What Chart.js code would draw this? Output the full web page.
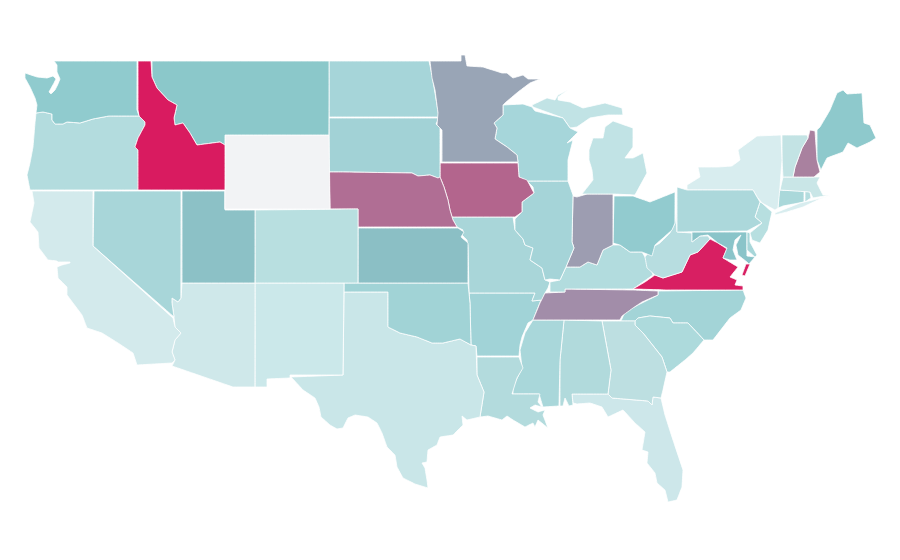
<!DOCTYPE html>
<html>
<head>
<meta charset="utf-8">
<title>US states</title>
<script src="https://cdn.jsdelivr.net/npm/chart.js@4"></script>
<style>
  html, body { margin: 0; background: #fff; }
  canvas { display: block; }
</style>
</head>
<body>
<canvas id="mapChart" width="900" height="560"></canvas>
<script>
// state outlines, in map units (x, y)
const washington = [[54,61],[137,61],[137,110],[139,116],[109,116],[93,119],[80,123],[67,122],[63,124],[55,124],[52,120],[52,114],[43,112],[36,113],[37,105],[35,98],[30,87],[25,78],[25,73],[37,77],[47,78],[53,76],[56,79],[54,83],[49,92],[51,94],[55,90],[58,84],[60,79],[57,72],[57,65]];
const idaho = [[138,61],[151,61],[152,77],[157,88],[168,100],[177,105],[174,118],[175,125],[183,123],[190,133],[197,145],[220,142],[225,145],[225,190],[138,190],[138,150],[135,147],[138,138],[145,125],[145,122],[139,116],[138,110]];
const montana = [[152,61],[329,61],[329,135],[225,135],[225,145],[220,142],[197,145],[190,133],[183,123],[175,125],[174,118],[177,105],[168,100],[157,88],[152,77]];
const wyoming = [[225,135],[329,135],[330,209],[225,209]];
const oregon = [[36,113],[43,112],[52,114],[52,120],[55,124],[63,124],[67,122],[80,123],[93,119],[109,116],[139,116],[145,122],[145,125],[138,138],[135,147],[138,150],[138,190],[30,190],[27,175],[30,163],[33,147],[35,123]];
const california = [[32,191],[93,191],[93,246],[173,318],[175,327],[181,333],[175,340],[172,352],[175,360],[172,363],[137,365],[133,353],[118,343],[102,333],[87,328],[82,315],[67,295],[67,287],[58,278],[57,267],[62,265],[70,263],[70,262],[58,262],[57,261],[48,260],[39,248],[38,232],[30,222],[34,203]];
const nevada = [[94,191],[181,191],[181,298],[178,302],[172,298],[172,303],[174,317],[93,246]];
const utah = [[182,191],[225,191],[225,210],[255,210],[255,283],[182,283]];
const arizona = [[182,283],[255,283],[255,387],[233,387],[172,366],[175,360],[172,352],[175,340],[181,333],[175,327],[174,317],[172,303],[172,298],[178,302],[181,298]];
const colorado = [[255,210],[358,209],[358,283],[255,283]];
const nebraska = [[329,172],[343,172],[412,173],[418,176],[430,175],[438,178],[440,177],[444,187],[448,200],[450,210],[453,220],[457,227],[358,227],[358,209],[330,209]];
const kansas = [[358,228],[458,228],[464,232],[461,237],[468,243],[468,283],[358,283]];
const newMexico = [[255,283],[344,283],[343,375],[290,375],[290,378],[267,379],[267,387],[255,387]];
const oklahoma = [[344,283],[468,283],[470,303],[471,345],[460,339],[443,343],[432,343],[417,337],[400,333],[388,327],[388,292],[344,292]];
const texas = [[344,292],[388,292],[388,327],[400,333],[417,337],[432,343],[443,343],[460,339],[471,345],[476,346],[477,375],[484,392],[480,417],[467,420],[462,416],[463,425],[453,435],[440,437],[437,445],[428,450],[427,462],[422,463],[425,468],[427,480],[428,488],[415,484],[403,478],[397,467],[395,455],[387,447],[382,433],[377,423],[368,417],[355,415],[348,418],[343,428],[337,429],[330,425],[321,417],[319,407],[315,398],[303,390],[292,378],[291,377],[343,375]];
const minnesota = [[430,61],[461,61],[461,55],[465,55],[467,66],[483,67],[502,73],[507,73],[513,78],[523,75],[528,79],[540,79],[530,83],[518,92],[505,103],[503,105],[503,115],[494,123],[497,128],[495,139],[507,147],[517,155],[518,162],[442,162],[442,130],[437,125],[438,113],[435,90],[432,78]];
const northDakota = [[329,61],[429,61],[432,75],[437,105],[439,117],[329,117]];
const southDakota = [[329,118],[439,118],[436,124],[440,128],[440,177],[438,178],[430,175],[418,176],[412,173],[343,172],[329,172]];
const iowa = [[440,163],[518,163],[519,177],[527,180],[534,193],[522,202],[522,212],[515,217],[452,217],[450,210],[448,200],[444,187],[440,177]];
const wisconsin = [[503,105],[523,104],[532,107],[535,111],[563,118],[570,128],[578,132],[567,143],[573,140],[568,160],[568,181],[527,181],[519,177],[518,163],[517,155],[507,147],[495,139],[497,128],[494,123],[503,115]];
const michiganUpper = [[533,107],[532,105],[547,98],[555,100],[558,95],[568,90],[558,97],[558,100],[570,102],[583,108],[605,103],[622,108],[623,115],[608,115],[590,118],[577,127],[570,128],[563,118]];
const michiganLower = [[613,121],[633,128],[633,147],[625,158],[633,158],[643,153],[647,173],[635,195],[613,194],[582,194],[593,180],[592,170],[589,160],[589,150],[593,138],[603,138],[605,127]];
const illinois = [[527,181],[568,181],[573,195],[572,242],[574,248],[566,267],[560,280],[550,279],[545,280],[542,268],[530,260],[533,248],[525,245],[523,239],[515,230],[515,219],[522,212],[522,202],[534,193],[533,187]];
const indiana = [[573,196],[577,197],[587,194],[613,194],[613,245],[603,250],[597,265],[588,262],[580,267],[566,267],[574,248],[572,242]];
const ohio = [[614,196],[633,196],[650,202],[675,192],[675,223],[672,230],[663,238],[655,245],[652,256],[642,252],[630,252],[620,245],[613,243]];
const pennsylvania = [[677,187],[687,190],[753,190],[757,197],[760,202],[755,217],[762,223],[747,231],[677,232]];
const newYork = [[687,190],[687,185],[700,177],[698,167],[718,167],[732,166],[740,160],[738,150],[757,136],[781,135],[782,160],[780,187],[778,208],[775,210],[762,203],[757,197],[753,190]];
const longIsland = [[775,213],[800,203],[830,196],[820,199],[803,207],[787,212],[775,215]];
const newJersey = [[762,203],[772,212],[768,230],[760,243],[752,240],[750,233],[762,223],[755,217],[760,202]];
const delaware = [[747,232],[747,250],[755,257],[757,255],[750,242],[750,233]];
const maryland = [[692,232],[747,232],[747,256],[755,257],[749,264],[747,262],[738,255],[736,245],[741,235],[735,240],[733,250],[737,260],[730,260],[723,258],[727,248],[718,243],[708,235],[700,236],[692,242]];
const westVirginia = [[676,213],[677,232],[692,233],[692,242],[700,236],[708,236],[710,239],[698,252],[690,255],[682,272],[663,278],[655,275],[647,268],[645,257],[653,247],[660,243],[670,233],[675,223]];
const virginia = [[633,289],[645,282],[655,275],[663,278],[682,272],[690,255],[698,252],[710,239],[718,243],[727,249],[723,258],[738,267],[730,277],[737,280],[735,285],[743,286],[743,290],[667,290]];
const virginiaShore = [[750,264],[746,264],[742,275],[745,276]];
const kentucky = [[613,245],[620,245],[630,252],[642,252],[645,257],[652,272],[653,275],[633,289],[565,289],[565,292],[550,292],[550,282],[560,280],[566,267],[580,267],[588,262],[597,265],[603,250]];
const tennessee = [[545,293],[565,292],[565,289],[633,290],[658,291],[658,295],[642,302],[633,308],[622,316],[620,320],[533,320],[540,303]];
const missouri = [[452,217],[513,217],[515,230],[523,239],[525,245],[533,248],[530,260],[542,268],[545,280],[550,282],[548,288],[545,293],[542,300],[532,301],[535,293],[469,293],[468,247],[467,240],[462,235],[463,230],[457,227],[453,220]];
const arkansas = [[469,293],[535,293],[532,301],[541,300],[533,320],[528,323],[522,337],[520,345],[519,356],[477,356],[476,346],[471,345],[470,303]];
const louisiana = [[477,357],[519,357],[523,368],[517,378],[512,394],[540,394],[538,402],[542,407],[535,405],[530,408],[538,412],[545,410],[543,415],[548,428],[538,420],[535,427],[533,423],[525,427],[513,420],[507,416],[502,420],[488,416],[480,417],[484,392],[477,375]];
const mississippi = [[533,320],[564,320],[560,360],[559,406],[543,407],[539,394],[513,394],[513,387],[522,368],[520,350],[525,333]];
const alabama = [[564,320],[602,321],[611,370],[608,394],[572,394],[573,405],[569,406],[565,398],[563,406],[560,406],[560,360]];
const georgia = [[602,321],[635,321],[635,325],[643,333],[662,357],[667,372],[663,390],[661,398],[653,397],[652,405],[648,401],[612,398],[608,394],[611,370]];
const florida = [[572,394],[608,394],[612,398],[648,401],[652,405],[653,397],[661,398],[665,415],[673,440],[683,470],[682,487],[677,500],[668,502],[665,490],[657,483],[655,473],[647,463],[648,452],[642,450],[645,432],[635,423],[623,410],[608,417],[602,407],[590,403],[577,404],[573,403]];
const southCarolina = [[635,321],[638,318],[650,316],[670,318],[673,323],[688,323],[704,340],[693,353],[685,360],[670,372],[667,372],[662,357],[643,333],[635,325]];
const northCarolina = [[658,291],[743,290],[746,298],[741,310],[730,318],[713,340],[704,340],[688,323],[673,323],[670,318],[650,316],[638,318],[635,321],[621,321],[625,312],[638,305],[648,300],[658,295]];
const vermont = [[782,135],[807,135],[808,138],[802,148],[795,167],[793,177],[783,177],[782,160]];
const newHampshire = [[810,130],[815,131],[817,160],[820,172],[814,177],[793,177],[795,167],[802,148],[808,138]];
const maine = [[817,130],[820,127],[830,110],[837,93],[843,90],[847,94],[862,93],[864,123],[870,125],[876,138],[870,142],[857,148],[848,143],[843,152],[827,158],[821,170],[817,160]];
const massachusetts = [[783,177],[820,177],[817,183],[823,195],[830,195],[813,198],[810,192],[780,190]];
const connecticut = [[779,190],[804,191],[804,202],[783,206],[778,208]];
const rhodeIsland = [[805,191],[810,192],[811,198],[805,202]];

const shapes = [washington, idaho, montana, wyoming, oregon, california, nevada, utah, arizona, colorado, nebraska, kansas, newMexico, oklahoma, texas, minnesota, northDakota, southDakota, iowa, wisconsin, michiganUpper, michiganLower, illinois, indiana, ohio, pennsylvania, newYork, longIsland, newJersey, delaware, maryland, westVirginia, virginia, virginiaShore, kentucky, tennessee, missouri, arkansas, louisiana, mississippi, alabama, georgia, florida, southCarolina, northCarolina, vermont, newHampshire, maine, massachusetts, connecticut, rhodeIsland];
const shapeNames = ['Washington','Idaho','Montana','Wyoming','Oregon','California','Nevada','Utah','Arizona','Colorado','Nebraska','Kansas','New Mexico','Oklahoma','Texas','Minnesota','North Dakota','South Dakota','Iowa','Wisconsin','Michigan','Michigan','Illinois','Indiana','Ohio','Pennsylvania','New York','New York','New Jersey','Delaware','Maryland','West Virginia','Virginia','Virginia','Kentucky','Tennessee','Missouri','Arkansas','Louisiana','Mississippi','Alabama','Georgia','Florida','South Carolina','North Carolina','Vermont','New Hampshire','Maine','Massachusetts','Connecticut','Rhode Island'];
const shapeColors = ['#90cbce','#d91b60','#8bc8ca','#f2f3f5','#b3dcde','#d3eaec','#a8d6d9','#8cc1c6','#cfe8ea','#b8dfe0','#b06e94','#8bbfc5','#cbe8ea','#a1d3d6','#c9e6e8','#99a5b6','#a6d5d9','#a2d2d6','#b3658d','#a6d6da','#c1e3e5','#c1e3e5','#a5d4d8','#9d9db1','#92cbcf','#acd8db','#d8edef','#d8edef','#b7dfe0','#a7d6d9','#8ac4c9','#b7dde0','#d81f62','#d81f62','#b2dcde','#a28da9','#a9d6d9','#a1d3d7','#b3dbdd','#a9d7da','#b1dadc','#bddfe1','#cde7ea','#addadc','#a3d4d7','#c3e3e4','#a9819f','#8ec9cc','#c9e6e7','#aad8da','#b4dddf'];

function buildDatasets() {
  return shapes.map(function (ring, i) {
    // close the ring so the white border goes all the way round
    const pts = ring.concat([ring[0]]).map(function (p) { return {x: p[0], y: p[1]}; });
    return {
      label: shapeNames[i],
      data: pts,
      showLine: true,
      fill: 'shape',
      indexAxis: 'y', // keeps the filler from clipping to the x span of the ring
      tension: 0.001,
      backgroundColor: shapeColors[i],
      borderColor: '#ffffff',
      borderWidth: 0.8,
      borderJoinStyle: 'round',
      pointRadius: 0,
      pointHoverRadius: 0,
      clip: false
    };
  });
}

new Chart(document.getElementById('mapChart'), {
  type: 'scatter',
  data: {datasets: buildDatasets()},
  options: {
    responsive: false,
    animation: false,
    layout: {padding: 0},
    plugins: {legend: {display: false}, tooltip: {enabled: false}},
    scales: {
      x: {type: 'linear', display: false, min: 0, max: 900},
      y: {type: 'linear', display: false, min: 0, max: 560, reverse: true}
    }
  }
});
</script>
</body>
</html>
